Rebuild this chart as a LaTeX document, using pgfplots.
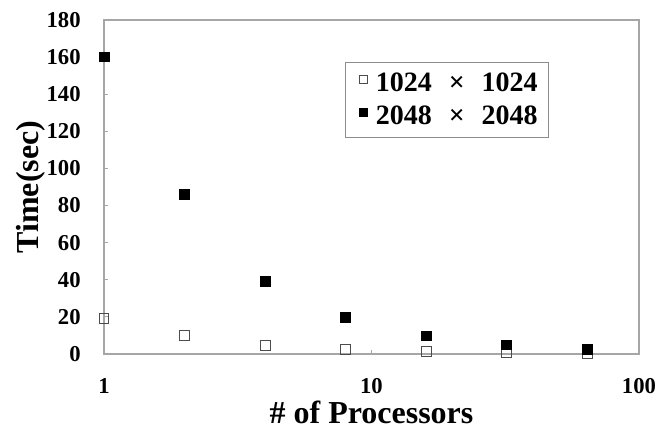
\documentclass[border=0pt]{standalone}
\usepackage{pgfplots}
\pgfplotsset{compat=1.18}
\usepackage{fontspec}
\setmainfont{Liberation Serif}
\begin{document}
\begin{tikzpicture}
\path[use as bounding box] (-78pt,-57pt) rectangle (415.5pt,265.5pt);
\begin{axis}[
  at={(0,0)}, anchor=south west,
  scale only axis, width=401.25pt, height=250.5pt,
  xmode=log, xmin=1, xmax=100, ymin=0, ymax=180,
  log basis x=10,
  xtick={1,10,100}, xticklabels={1,10,100},
  minor xtick={}, 
  ytick={0,20,...,180},
  tick align=inside, tick pos=left, major tick length=3pt,
  axis line style={draw=black!35, line width=0.9pt},
  every tick/.style={draw=black!35, line width=0.8pt},
  /pgf/number format/assume math mode=true,
  ticklabel style={font=\fontsize{17}{19}\selectfont\bfseries},
  xticklabel style={yshift=-15pt},
  yticklabel style={xshift=-14pt},
  xlabel={\# of Processors},
  ylabel={Time(sec)},
  label style={font=\fontsize{24}{26}\selectfont\bfseries},
  xlabel style={at={(axis description cs:0.5,-0.176)}, anchor=center},
  ylabel style={at={(axis description cs:-0.137,0.5)}, anchor=center},
  legend style={at={(axis description cs:0.45,0.874)}, anchor=north west,
    draw=black!45, line width=0.6pt, font=\fontsize{21}{23}\selectfont\bfseries,
    inner xsep=6pt, inner ysep=6pt, row sep=5pt,
    /tikz/every odd column/.append style={column sep=4pt}},
  legend cell align=left,
]
\addplot[only marks, mark=square, mark size=3.7pt,
  mark options={draw=black!70, fill=white, line width=0.7pt},
  legend image code/.code={\path (0,0); \draw[draw=black!70, fill=white, line width=0.5pt] (0.16cm,0.0cm) rectangle (0.37cm,0.21cm);}]
  coordinates {(1,19) (2,9.8) (4,4.8) (8,2.3) (16,1.2) (32,0.6) (64,0.3)};
\addlegendentry{1024\hspace{0.6em}×\hspace{0.6em}1024}
\addplot[only marks, mark=square*, mark size=3.7pt,
  mark options={draw=black, fill=black},
  legend image code/.code={\path (0,0); \fill[black] (0.16cm,0.0cm) rectangle (0.37cm,0.21cm);}]
  coordinates {(1,160.2) (2,86) (4,39.2) (8,19.8) (16,9.8) (32,5) (64,2.6)};
\addlegendentry{2048\hspace{0.6em}×\hspace{0.6em}2048}
\end{axis}
\end{tikzpicture}
\end{document}
